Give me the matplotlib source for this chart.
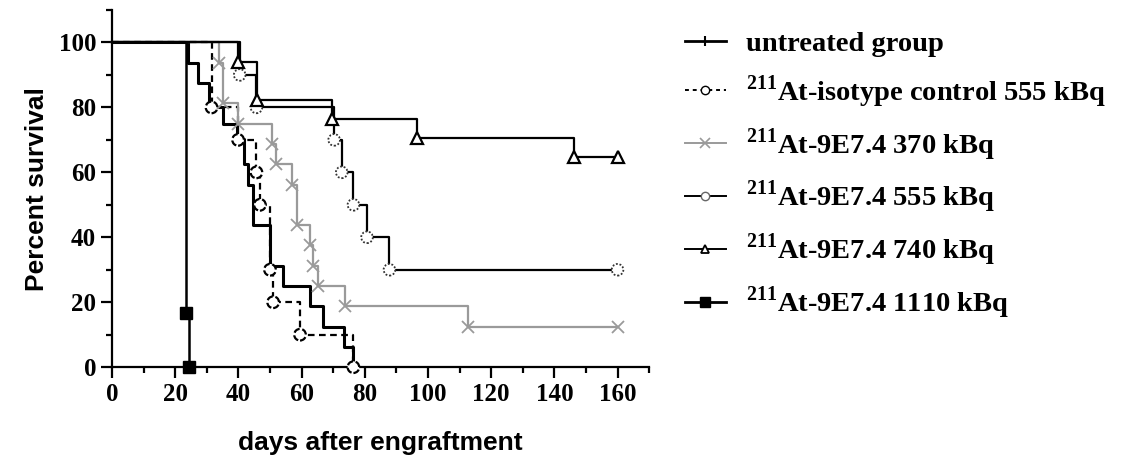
import matplotlib
matplotlib.use('Agg')
import matplotlib.pyplot as plt
from matplotlib.lines import Line2D
from matplotlib.ticker import MultipleLocator

# Kaplan-Meier curves (day, percent survival), step after each day
untreated_days = [0, 24.0, 27.2, 30.7, 35.0, 39.4, 41.7, 43.1, 44.7, 50.0, 54.2, 62.7, 66.9, 73.5, 76.4]
untreated_surv = [100, 93.75, 87.5, 80.0, 75.0, 70.3, 62.5, 56.25, 43.75, 31.25, 25.0, 18.75, 12.5, 6.25, 0]

isotype_days = [0, 31.5, 39.9, 45.7, 46.8, 50.0, 51.0, 59.5, 76.4]
isotype_surv = [100, 80, 70, 60, 50, 30, 20, 10, 0]

d370_days = [0, 33.9, 35.1, 39.9, 50.5, 52.0, 56.9, 58.4, 62.7, 63.7, 65.3, 73.8, 112.6, 160]
d370_surv = [100, 93.75, 81.25, 75, 68.75, 62.5, 56.25, 43.75, 37.5, 31.25, 25, 18.75, 12.5, 12.5]

d555_days = [0, 40.4, 45.7, 70.3, 72.7, 76.4, 80.7, 87.8, 160]
d555_surv = [100, 90, 80, 70, 60, 50, 40, 30, 30]

d740_days = [0, 40.0, 46.0, 69.6, 96.5, 146.3, 160]
d740_surv = [100, 94.1, 82.4, 76.5, 70.6, 64.7, 64.7]

d1110_days = [0, 23.5, 24.5]
d1110_surv = [100, 16.7, 0]

labels = ['untreated group',
          r'$^{\mathregular{211}}$At-isotype control 555 kBq',
          r'$^{\mathregular{211}}$At-9E7.4 370 kBq',
          r'$^{\mathregular{211}}$At-9E7.4 555 kBq',
          r'$^{\mathregular{211}}$At-9E7.4 740 kBq',
          r'$^{\mathregular{211}}$At-9E7.4 1110 kBq']

gray = '#9a9a9a'

fig = plt.figure(figsize=(11.26, 4.55), dpi=100)
ax = fig.add_axes([0.0995, 0.193, 0.477, 0.785])

# step lines
ax.step(untreated_days, untreated_surv, where='post', color='k', lw=2.2, clip_on=False)
ax.step(isotype_days, isotype_surv, where='post', color='k', lw=1.6, ls=(0, (3, 2)), clip_on=False)
ax.step(d370_days, d370_surv, where='post', color=gray, lw=1.6, clip_on=False)
ax.step(d555_days, d555_surv, where='post', color='k', lw=1.6, clip_on=False)
ax.step(d740_days, d740_surv, where='post', color='k', lw=1.6, clip_on=False)
ax.step(d1110_days, d1110_surv, where='post', color='k', lw=1.8, clip_on=False)

# symbols at each event
ax.scatter(isotype_days[1:], isotype_surv[1:], s=70, facecolors='white', edgecolors='k',
           linewidths=1.6, linestyles=(0, (3, 1.2)), zorder=3, clip_on=False)
ax.plot(d370_days[1:], d370_surv[1:], ls='none', marker='x', ms=8, mew=1.3, color=gray,
        zorder=3, clip_on=False)
ax.scatter(d555_days[1:], d555_surv[1:], s=70, facecolors='white', edgecolors='#333333',
           linewidths=1.3, linestyles=(0, (1, 1)), zorder=3, clip_on=False)
ax.plot(d740_days[1:], d740_surv[1:], ls='none', marker='^', ms=8, mew=1.6, mfc='white',
        mec='k', zorder=3, clip_on=False)
ax.plot(d1110_days[1:], d1110_surv[1:], ls='none', marker='s', ms=8, color='k',
        zorder=4, clip_on=False)

ax.set_xlim(0, 170)
ax.set_ylim(0, 110)
ax.spines['top'].set_visible(False)
ax.spines['right'].set_visible(False)
ax.spines['left'].set_linewidth(1.6)
ax.spines['bottom'].set_linewidth(1.6)
ax.xaxis.set_minor_locator(MultipleLocator(10))
ax.yaxis.set_minor_locator(MultipleLocator(10))
ax.set_xticks(range(0, 180, 20))
ax.set_xticklabels([str(v) for v in range(0, 180, 20)])
ax.set_yticks(range(0, 120, 20))
ax.set_yticklabels([str(v) for v in range(0, 120, 20)])
ax.tick_params(which='major', length=8, width=1.6, direction='out')
ax.tick_params(which='minor', length=4.5, width=1.6, direction='out')
for lab in ax.get_xticklabels() + ax.get_yticklabels():
    lab.set_fontfamily('Liberation Serif')
    lab.set_fontweight('bold')
    lab.set_fontsize(18)

ax.set_xlabel('days after engraftment', fontfamily='Liberation Sans', fontweight='bold',
              fontsize=19, labelpad=18)
ax.set_ylabel('Percent survival', fontfamily='Liberation Sans', fontweight='bold',
              fontsize=19, labelpad=7)

handles = [
    Line2D([], [], color='k', lw=2, marker='|', ms=7, mew=1.5),
    Line2D([], [], color='k', lw=1.4, ls=(0, (2, 2)), marker='o', ms=6, mfc='white', mec='k'),
    Line2D([], [], color=gray, lw=1.4, marker='x', ms=7, mew=1.2),
    Line2D([], [], color='k', lw=1.4, marker='o', ms=6, mfc='white', mec='#666666', mew=1),
    Line2D([], [], color='k', lw=1.4, marker='^', ms=6, mfc='white', mec='k', mew=1.3),
    Line2D([], [], color='k', lw=2, marker='s', ms=7),
]
fig.legend(handles, labels, loc='upper left', bbox_to_anchor=(0.608, 0.932),
           frameon=False, borderpad=0, borderaxespad=0, handlelength=1.44,
           handletextpad=0.7, labelspacing=0.57,
           prop={'family': 'Liberation Serif', 'weight': 'bold', 'size': 20.5})

fig.savefig('out.png', dpi=100)
